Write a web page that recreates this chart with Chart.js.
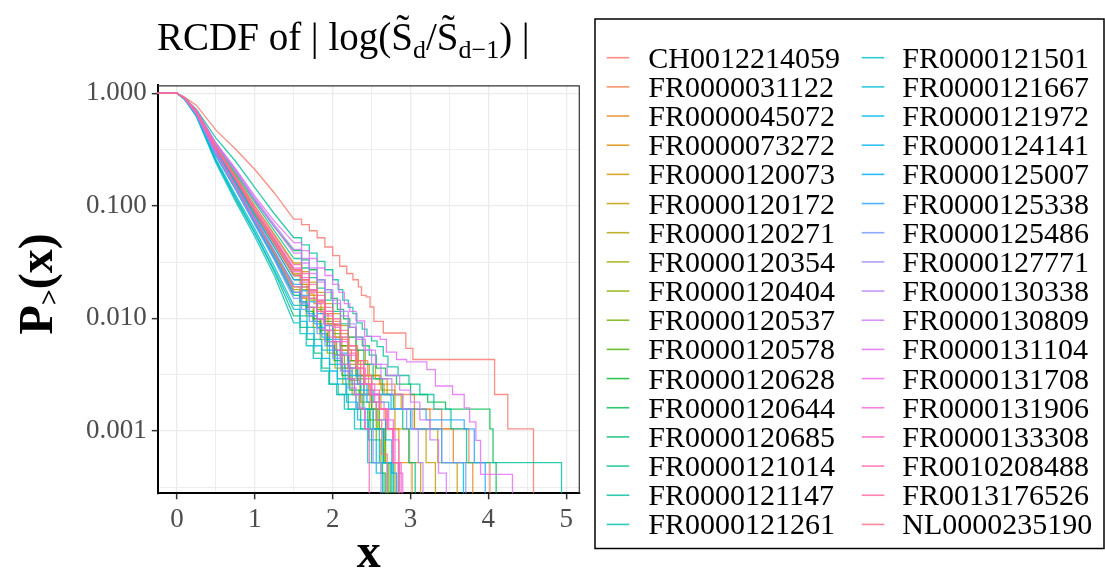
<!DOCTYPE html>
<html>
<head>
<meta charset="utf-8">
<script src="https://cdn.jsdelivr.net/npm/chart.js@4.4.1/dist/chart.umd.min.js"></script>
<style>
  html, body { margin: 0; background: #fff; }
</style>
</head>
<body>
<canvas id="grafico" width="1105" height="576"></canvas>
<script>
// Series names (legend order)
const SERIES = [
  "CH0012214059", "FR0000031122", "FR0000045072", "FR0000073272", "FR0000120073",
  "FR0000120172", "FR0000120271", "FR0000120354", "FR0000120404", "FR0000120537",
  "FR0000120578", "FR0000120628", "FR0000120644", "FR0000120685", "FR0000121014",
  "FR0000121147", "FR0000121261", "FR0000121501", "FR0000121667", "FR0000121972",
  "FR0000124141", "FR0000125007", "FR0000125338", "FR0000125486", "FR0000127771",
  "FR0000130338", "FR0000130809", "FR0000131104", "FR0000131708", "FR0000131906",
  "FR0000133308", "FR0010208488", "FR0013176526", "NL0000235190"
];

// dense upper part of each RCDF, read at these x values
const HEAD_X = [-0.3, 0, 0.1, 0.25, 0.5, 0.75, 1.0, 1.25, 1.5];
const HEAD_Y = [
  [1, 1, 0.92, 0.78, 0.47, 0.32, 0.21, 0.13, 0.076],
  [1, 1, 0.90, 0.68, 0.33, 0.18, 0.093, 0.050, 0.027],
  [1, 1, 0.90, 0.67, 0.31, 0.168, 0.086, 0.046, 0.024],
  [1, 1, 0.89, 0.65, 0.29, 0.152, 0.075, 0.037, 0.018],
  [1, 1, 0.90, 0.68, 0.32, 0.173, 0.090, 0.048, 0.025],
  [1, 1, 0.91, 0.70, 0.34, 0.19, 0.10, 0.056, 0.031],
  [1, 1, 0.91, 0.69, 0.33, 0.178, 0.093, 0.051, 0.027],
  [1, 1, 0.89, 0.65, 0.28, 0.141, 0.070, 0.034, 0.016],
  [1, 1, 0.90, 0.67, 0.31, 0.162, 0.083, 0.043, 0.022],
  [1, 1, 0.90, 0.66, 0.30, 0.152, 0.076, 0.038, 0.019],
  [1, 1, 0.90, 0.68, 0.32, 0.168, 0.087, 0.046, 0.024],
  [1, 1, 0.89, 0.65, 0.29, 0.146, 0.072, 0.036, 0.017],
  [1, 1, 0.91, 0.70, 0.36, 0.205, 0.112, 0.065, 0.040],
  [1, 1, 0.88, 0.63, 0.25, 0.115, 0.057, 0.026, 0.0105],
  [1, 1, 0.91, 0.70, 0.35, 0.195, 0.107, 0.060, 0.034],
  [1, 1, 0.91, 0.72, 0.40, 0.25, 0.145, 0.085, 0.052],
  [1, 1, 0.89, 0.64, 0.26, 0.125, 0.062, 0.029, 0.013],
  [1, 1, 0.88, 0.62, 0.24, 0.11, 0.053, 0.024, 0.0091],
  [1, 1, 0.89, 0.65, 0.28, 0.141, 0.069, 0.034, 0.016],
  [1, 1, 0.88, 0.63, 0.25, 0.12, 0.058, 0.027, 0.012],
  [1, 1, 0.89, 0.65, 0.28, 0.141, 0.071, 0.035, 0.017],
  [1, 1, 0.90, 0.67, 0.31, 0.162, 0.082, 0.043, 0.022],
  [1, 1, 0.90, 0.66, 0.30, 0.157, 0.079, 0.040, 0.020],
  [1, 1, 0.89, 0.65, 0.28, 0.141, 0.068, 0.033, 0.015],
  [1, 1, 0.89, 0.65, 0.29, 0.146, 0.073, 0.036, 0.017],
  [1, 1, 0.91, 0.70, 0.36, 0.21, 0.117, 0.068, 0.041],
  [1, 1, 0.91, 0.70, 0.35, 0.205, 0.112, 0.065, 0.038],
  [1, 1, 0.91, 0.70, 0.36, 0.215, 0.122, 0.073, 0.047],
  [1, 1, 0.90, 0.68, 0.32, 0.173, 0.090, 0.049, 0.026],
  [1, 1, 0.91, 0.69, 0.33, 0.178, 0.093, 0.051, 0.028],
  [1, 1, 0.90, 0.66, 0.30, 0.152, 0.076, 0.039, 0.019],
  [1, 1, 0.90, 0.68, 0.32, 0.173, 0.088, 0.046, 0.024],
  [1, 1, 0.91, 0.69, 0.34, 0.184, 0.099, 0.054, 0.030],
  [1, 1, 0.91, 0.69, 0.33, 0.178, 0.092, 0.050, 0.027]
];

// sparse tail of each RCDF: [x, P(X > x)] steps, last one drops to 0
const TAIL = [
  [[1.5,0.076],[1.6,0.068],[1.7,0.060],[1.8,0.052],[1.9,0.043],[2.0,0.036],[2.09,0.029],[2.18,0.025],[2.26,0.022],[2.33,0.019],[2.37,0.016],[2.43,0.0155],[2.48,0.0126],[2.53,0.0094],[2.65,0.0074],[2.94,0.0054],[3.03,0.0043],[4.08,0.0021],[4.25,0.00104],[4.58,0]],
  [[1.5,0.027],[1.6,0.022],[1.7,0.018],[1.8,0.0145],[1.9,0.0115],[2.0,0.0094],[2.1,0.0073],[2.2,0.0057],[2.32,0.0042],[2.45,0.0031],[2.6,0.0026],[2.8,0.0021],[3.05,0.00156],[3.4,0.00104],[3.75,0.00052],[4.02,0]],
  [[1.5,0.024],[1.58,0.020],[1.67,0.0165],[1.76,0.0135],[1.85,0.011],[1.94,0.0089],[2.03,0.0068],[2.12,0.0052],[2.24,0.0042],[2.36,0.0031],[2.5,0.0026],[2.66,0.0021],[2.9,0.00156],[3.25,0.00104],[3.55,0.00052],[3.8,0]],
  [[1.5,0.018],[1.58,0.015],[1.66,0.0125],[1.75,0.0099],[1.84,0.0078],[1.93,0.0062],[2.02,0.0047],[2.12,0.0036],[2.22,0.0028],[2.35,0.0021],[2.5,0.00156],[2.68,0.00104],[2.85,0.00052],[3.02,0]],
  [[1.5,0.025],[1.6,0.020],[1.7,0.016],[1.8,0.0125],[1.9,0.0099],[2.0,0.0078],[2.1,0.0057],[2.2,0.0042],[2.32,0.0031],[2.46,0.0021],[2.62,0.00156],[2.8,0.00104],[2.98,0.00052],[3.13,0]],
  [[1.5,0.031],[1.6,0.026],[1.7,0.021],[1.8,0.017],[1.9,0.0135],[2.0,0.011],[2.1,0.0086],[2.2,0.0068],[2.3,0.0052],[2.42,0.0039],[2.55,0.0029],[2.7,0.0021],[2.88,0.00156],[3.05,0.00104],[3.2,0.00052],[3.32,0]],
  [[1.5,0.027],[1.6,0.022],[1.7,0.0175],[1.8,0.014],[1.9,0.011],[2.0,0.0088],[2.1,0.0068],[2.21,0.0052],[2.33,0.0039],[2.47,0.0031],[2.62,0.0023],[2.8,0.00156],[3.05,0.00104],[3.35,0.00052],[3.6,0]],
  [[1.5,0.016],[1.58,0.013],[1.66,0.0105],[1.75,0.0083],[1.84,0.0065],[1.93,0.0049],[2.03,0.0036],[2.13,0.0026],[2.25,0.0021],[2.38,0.00156],[2.52,0.00104],[2.66,0.00052],[2.8,0]],
  [[1.5,0.022],[1.6,0.018],[1.7,0.0145],[1.8,0.0115],[1.9,0.0089],[2.0,0.0068],[2.1,0.0052],[2.2,0.0039],[2.3,0.0029],[2.4,0.0021],[2.5,0.00156],[2.58,0.00104],[2.66,0.00052],[2.72,0]],
  [[1.5,0.019],[1.58,0.0155],[1.67,0.0125],[1.76,0.0099],[1.85,0.0078],[1.95,0.0062],[2.05,0.0047],[2.15,0.0036],[2.25,0.0026],[2.36,0.0018],[2.47,0.00125],[2.56,0.00083],[2.62,0.00042],[2.68,0]],
  [[1.5,0.024],[1.6,0.019],[1.7,0.015],[1.8,0.012],[1.9,0.0094],[2.0,0.0073],[2.1,0.0057],[2.2,0.0042],[2.3,0.0031],[2.4,0.0021],[2.5,0.00156],[2.6,0.00104],[2.68,0.00052],[2.76,0]],
  [[1.5,0.017],[1.58,0.014],[1.66,0.0115],[1.75,0.0094],[1.84,0.0073],[1.93,0.0057],[2.02,0.0042],[2.12,0.0031],[2.22,0.0023],[2.34,0.00156],[2.48,0.00104],[2.65,0.00052],[2.85,0]],
  [[1.5,0.040],[1.6,0.033],[1.7,0.027],[1.8,0.022],[1.9,0.018],[1.98,0.015],[2.06,0.012],[2.14,0.0099],[2.22,0.0083],[2.3,0.0068],[2.38,0.0057],[2.47,0.0047],[2.56,0.0036],[2.68,0.0031],[2.82,0.0026],[3.0,0.0021],[3.22,0.0018],[3.45,0.00156],[4.02,0.00104],[4.06,0.00052],[4.1,0]],
  [[1.5,0.0105],[1.58,0.0083],[1.67,0.0065],[1.76,0.0049],[1.86,0.0036],[1.96,0.0026],[2.07,0.0021],[2.2,0.00156],[2.36,0.00104],[2.5,0.00052],[2.64,0]],
  [[1.5,0.034],[1.6,0.028],[1.7,0.023],[1.8,0.0185],[1.9,0.0145],[2.0,0.0115],[2.1,0.0089],[2.2,0.0068],[2.3,0.0052],[2.4,0.0039],[2.52,0.0029],[2.64,0.0021],[2.78,0.00156],[2.9,0.00104],[2.98,0.00052],[3.06,0]],
  [[1.5,0.052],[1.6,0.045],[1.7,0.038],[1.8,0.032],[1.9,0.027],[2.0,0.022],[2.07,0.018],[2.13,0.0145],[2.2,0.0125],[2.26,0.011],[2.31,0.0091],[2.38,0.008],[2.44,0.0069],[2.5,0.0063],[2.57,0.0056],[2.65,0.0046],[2.71,0.0037],[2.84,0.0031],[2.98,0.0026],[3.12,0.0021],[3.3,0.00156],[3.52,0.00104],[3.72,0.00052],[4.94,0]],
  [[1.5,0.013],[1.58,0.0105],[1.67,0.0083],[1.76,0.0065],[1.86,0.0052],[1.96,0.0039],[2.06,0.0029],[2.17,0.0021],[2.3,0.00156],[2.45,0.00104],[2.6,0.00052],[2.74,0]],
  [[1.5,0.0091],[1.58,0.0073],[1.66,0.0057],[1.75,0.0044],[1.85,0.0034],[1.95,0.0026],[2.05,0.0021],[2.15,0.00156],[2.28,0.00104],[2.45,0.00052],[2.7,0]],
  [[1.5,0.016],[1.6,0.013],[1.7,0.0105],[1.8,0.0083],[1.9,0.0065],[2.0,0.0052],[2.1,0.0039],[2.22,0.0031],[2.36,0.0023],[2.52,0.0018],[2.72,0.00156],[3.0,0.00104],[3.4,0.00052],[3.68,0]],
  [[1.5,0.012],[1.58,0.0094],[1.67,0.0073],[1.76,0.0057],[1.86,0.0044],[1.96,0.0034],[2.06,0.0026],[2.18,0.0018],[2.32,0.00125],[2.46,0.00083],[2.56,0.00042],[2.66,0]],
  [[1.5,0.017],[1.58,0.014],[1.67,0.011],[1.76,0.0089],[1.86,0.0068],[1.96,0.0052],[2.06,0.0039],[2.16,0.0029],[2.28,0.0021],[2.4,0.00156],[2.52,0.00104],[2.65,0.00052],[2.78,0]],
  [[1.5,0.022],[1.6,0.0175],[1.7,0.014],[1.8,0.011],[1.9,0.0086],[2.0,0.0065],[2.1,0.0049],[2.2,0.0036],[2.32,0.0026],[2.44,0.0018],[2.56,0.00125],[2.68,0.00083],[2.76,0.00042],[2.82,0]],
  [[1.5,0.02],[1.6,0.016],[1.7,0.0125],[1.8,0.0099],[1.9,0.0078],[2.0,0.0062],[2.1,0.0047],[2.2,0.0036],[2.32,0.0026],[2.5,0.0021],[2.75,0.00156],[3.2,0.00125],[3.69,0.00104],[3.82,0.00052],[3.96,0]],
  [[1.5,0.015],[1.6,0.012],[1.7,0.0094],[1.8,0.0073],[1.9,0.0057],[2.0,0.0044],[2.12,0.0034],[2.25,0.0026],[2.4,0.0021],[2.6,0.00156],[2.95,0.00104],[3.4,0.00052],[3.71,0]],
  [[1.5,0.017],[1.6,0.0135],[1.7,0.0105],[1.8,0.0081],[1.9,0.0062],[2.0,0.0047],[2.1,0.0034],[2.2,0.0024],[2.3,0.0016],[2.42,0.00104],[2.52,0.00052],[2.62,0]],
  [[1.5,0.041],[1.6,0.034],[1.7,0.028],[1.8,0.022],[1.9,0.018],[2.0,0.0145],[2.1,0.0115],[2.2,0.0089],[2.3,0.0068],[2.4,0.0052],[2.5,0.0039],[2.62,0.0029],[2.76,0.0021],[2.9,0.00156],[3.02,0.00104],[3.1,0.00052],[3.16,0]],
  [[1.5,0.038],[1.6,0.031],[1.7,0.025],[1.8,0.021],[1.9,0.017],[2.0,0.0135],[2.1,0.0105],[2.2,0.0083],[2.3,0.0065],[2.42,0.0052],[2.55,0.0039],[2.7,0.0031],[2.86,0.0023],[3.0,0.0018],[3.12,0.00125],[3.25,0.00083],[3.36,0.00042],[3.46,0]],
  [[1.5,0.047],[1.6,0.040],[1.7,0.034],[1.8,0.028],[1.9,0.024],[2.0,0.020],[2.08,0.017],[2.15,0.0135],[2.22,0.0115],[2.3,0.0095],[2.41,0.0069],[2.61,0.0065],[2.69,0.005],[2.82,0.0043],[2.95,0.0041],[3.21,0.0035],[3.32,0.0025],[3.54,0.0021],[3.69,0.0016],[3.76,0.0012],[3.84,0.00082],[3.9,0.00041],[4.31,0]],
  [[1.5,0.026],[1.6,0.021],[1.7,0.017],[1.8,0.0135],[1.9,0.0105],[2.0,0.0083],[2.1,0.0062],[2.2,0.0047],[2.3,0.0036],[2.42,0.0026],[2.54,0.0018],[2.66,0.00125],[2.78,0.00083],[2.85,0.00042],[2.9,0]],
  [[1.5,0.028],[1.6,0.023],[1.7,0.018],[1.8,0.0145],[1.9,0.0115],[2.0,0.0089],[2.1,0.0068],[2.2,0.0052],[2.3,0.0039],[2.4,0.0029],[2.5,0.0021],[2.6,0.00156],[2.7,0.00104],[2.78,0.00052],[2.86,0]],
  [[1.5,0.019],[1.6,0.0155],[1.7,0.0125],[1.8,0.0099],[1.9,0.0078],[2.0,0.0062],[2.1,0.0047],[2.22,0.0036],[2.35,0.0026],[2.48,0.0021],[2.6,0.00156],[2.72,0.00104],[2.8,0.00052],[2.88,0]],
  [[1.5,0.024],[1.6,0.019],[1.7,0.015],[1.8,0.0115],[1.88,0.0089],[1.96,0.0068],[2.04,0.0052],[2.12,0.0039],[2.2,0.0029],[2.28,0.0021],[2.35,0.00156],[2.41,0.00104],[2.47,0]],
  [[1.5,0.03],[1.6,0.025],[1.7,0.02],[1.8,0.016],[1.9,0.0125],[2.0,0.0099],[2.1,0.0078],[2.2,0.0057],[2.3,0.0042],[2.4,0.0031],[2.5,0.0023],[2.6,0.00156],[2.7,0.00104],[2.77,0.00052],[2.84,0]],
  [[1.5,0.027],[1.6,0.022],[1.7,0.0175],[1.8,0.014],[1.9,0.011],[2.0,0.0086],[2.1,0.0065],[2.2,0.0049],[2.3,0.0036],[2.4,0.0026],[2.48,0.0018],[2.56,0.00125],[2.63,0.00062],[2.7,0]]
];

const X_TICKS = [0, 1, 2, 3, 4, 5];
const Y_TICKS = [1, 0.1, 0.01, 0.001];

// ---- styling ----
const FONT = '"Liberation Serif", "Times New Roman", serif';
const X_MIN = -0.247, X_MAX = 5.175;
const Y_MIN = 0.000278, Y_MAX = 1.178;
const FLOOR = 1e-6;   // log axis can't show 0, send the final drop below the panel

// ggplot default hue palette: hcl(h, c = 100, l = 65)
function hueColour(i, n, alpha) {
  const h = (15 + 360 * i / n) * Math.PI / 180, c = 100, l = 65;
  const U = c * Math.cos(h), V = c * Math.sin(h);
  const Y = 100 * Math.pow((l + 16) / 116, 3);
  const XN = 95.047, YN = 100, ZN = 108.883;
  const t = XN + YN + ZN, xn = XN / t, yn = YN / t;
  const uN = 2 * xn / (6 * yn - xn + 1.5), vN = 4.5 * yn / (6 * yn - xn + 1.5);
  const u = U / (13 * l) + uN, v = V / (13 * l) + vN;
  const X = 9 * Y * u / (4 * v);
  const Z = -X / 3 - 5 * Y + 3 * Y / v;
  const lin = [
    ( 3.240479 * X - 1.537150 * Y - 0.498535 * Z) / 100,
    (-0.969256 * X + 1.875992 * Y + 0.041556 * Z) / 100,
    ( 0.055648 * X - 0.204043 * Y + 1.057311 * Z) / 100
  ];
  const rgb = lin.map(c0 => {
    const g = c0 <= 0.0031308 ? 12.92 * c0 : 1.055 * Math.pow(c0, 1 / 2.4) - 0.055;
    return Math.round(255 * Math.min(1, Math.max(0, g)));
  });
  return `rgba(${rgb[0]},${rgb[1]},${rgb[2]},${alpha})`;
}

const N = SERIES.length;
const datasets = [];
SERIES.forEach((name, i) => {
  const col = hueColour(i, N, 0.82);
  datasets.push({
    label: name,
    data: HEAD_X.map((x, j) => ({ x: x, y: HEAD_Y[i][j] })),
    borderColor: col, borderWidth: 1.3, pointRadius: 0, fill: false,
    tension: 0, clip: 0, order: N - i
  });
  // RCDF holds its value until the next x, then drops: horizontal first
  datasets.push({
    label: name + ' tail',
    data: TAIL[i].map(p => ({ x: p[0], y: p[1] > 0 ? p[1] : FLOOR })),
    borderColor: col, borderWidth: 1.3, pointRadius: 0, fill: false,
    stepped: 'before', clip: 0, order: N - i
  });
});

const xGrid = [];
for (let v = 0; v <= 5; v += 0.5) xGrid.push(v);
const yGrid = [];
Y_TICKS.forEach(v => { yGrid.push(v); yGrid.push(v / Math.sqrt(10)); });

function drawRuns(ctx, runs, x, y) {
  runs.forEach(r => {
    ctx.font = r.font;
    ctx.fillText(r.text, x, y + (r.dy || 0));
    x += ctx.measureText(r.text).width;
  });
  return x;
}
function runsWidth(ctx, runs) {
  let w = 0;
  runs.forEach(r => { ctx.font = r.font; w += ctx.measureText(r.text).width; });
  return w;
}

const decor = {
  id: 'decor',
  afterDraw(chart) {
    const ctx = chart.ctx, a = chart.chartArea;
    ctx.save();

    // panel border (top / right)
    ctx.strokeStyle = '#333';
    ctx.lineWidth = 1.2;
    ctx.beginPath();
    ctx.moveTo(a.left, a.top + 0.5);
    ctx.lineTo(a.right - 0.5, a.top + 0.5);
    ctx.lineTo(a.right - 0.5, a.bottom);
    ctx.stroke();

    ctx.fillStyle = '#000';
    ctx.textBaseline = 'alphabetic';
    ctx.textAlign = 'left';

    // title
    const tMain = '39px ' + FONT, tSub = '26px ' + FONT;
    drawRuns(ctx, [
      { text: 'RCDF of | log(S\u0303', font: tMain },
      { text: 'd', font: tSub, dy: 8 },
      { text: '/S\u0303', font: tMain },
      { text: 'd\u22121', font: tSub, dy: 8 },
      { text: ') |', font: tMain }
    ], 157, 50);

    // x axis title
    ctx.font = 'bold 48px ' + FONT;
    ctx.textAlign = 'center';
    ctx.fillText('x', (a.left + a.right) / 2, 567);
    ctx.textAlign = 'left';

    // y axis title, rotated
    const yRuns = [
      { text: 'P', font: 'bold 48px ' + FONT },
      { text: '>', font: 'bold 28px ' + FONT, dy: 6 },
      { text: '(x)', font: 'bold 48px ' + FONT }
    ];
    const w = runsWidth(ctx, yRuns);
    ctx.save();
    ctx.translate(52, 284 + w / 2);
    ctx.rotate(-Math.PI / 2);
    drawRuns(ctx, yRuns, 0, 0);
    ctx.restore();

    // legend
    ctx.strokeStyle = '#000';
    ctx.lineWidth = 1.5;
    ctx.strokeRect(595, 19, 509, 529.5);
    ctx.font = '30px ' + FONT;
    SERIES.forEach((name, i) => {
      const colIdx = i < 17 ? 0 : 1;
      const row = i % 17;
      const y = 57.7 + row * 29.17;
      const kx = colIdx ? 861.7 : 606.7;
      const tx = colIdx ? 902.3 : 648.3;
      ctx.strokeStyle = hueColour(i, N, 0.82);
      ctx.lineWidth = 1.6;
      ctx.beginPath();
      ctx.moveTo(kx, y);
      ctx.lineTo(kx + 22.6, y);
      ctx.stroke();
      ctx.fillStyle = '#000';
      ctx.fillText(name, tx, y + 10);
    });
    ctx.restore();
  }
};

const tickFont = { family: FONT, size: 27 };

new Chart(document.getElementById('grafico'), {
  type: 'line',
  data: { datasets: datasets },
  options: {
    responsive: false,
    animation: false,
    layout: { padding: { left: 0, top: 85.3, right: 525.2, bottom: 0 } },
    plugins: { legend: { display: false }, tooltip: { enabled: false }, title: { display: false } },
    scales: {
      x: {
        type: 'linear',
        min: X_MIN, max: X_MAX,
        afterBuildTicks: s => { s.ticks = xGrid.map(v => ({ value: v })); },
        afterFit: s => { s.height = 82.7; },
        ticks: {
          autoSkip: false, maxRotation: 0, padding: 4,
          color: '#4D4D4D', font: tickFont,
          callback: v => X_TICKS.includes(v) ? String(v) : ''
        },
        grid: {
          color: '#EBEBEB',
          lineWidth: c => X_TICKS.includes(c.tick && c.tick.value) ? 1.3 : 0.9,
          tickLength: 6, tickWidth: 1.5,
          tickColor: c => X_TICKS.includes(c.tick && c.tick.value) ? '#333' : 'rgba(0,0,0,0)'
        },
        border: { display: true, color: '#000', width: 2 }
      },
      y: {
        type: 'logarithmic',
        min: Y_MIN, max: Y_MAX,
        afterBuildTicks: s => { s.ticks = yGrid.map(v => ({ value: v })); },
        afterFit: s => { s.width = 157.8; },
        ticks: {
          autoSkip: false, padding: 5,
          color: '#4D4D4D', font: tickFont,
          callback: v => Y_TICKS.includes(v) ? v.toFixed(3) : ''
        },
        grid: {
          color: '#EBEBEB',
          lineWidth: c => Y_TICKS.includes(c.tick && c.tick.value) ? 1.3 : 0.9,
          tickLength: 6, tickWidth: 1.5,
          tickColor: c => Y_TICKS.includes(c.tick && c.tick.value) ? '#333' : 'rgba(0,0,0,0)'
        },
        border: { display: true, color: '#000', width: 2 }
      }
    }
  },
  plugins: [decor]
});
</script>
</body>
</html>
